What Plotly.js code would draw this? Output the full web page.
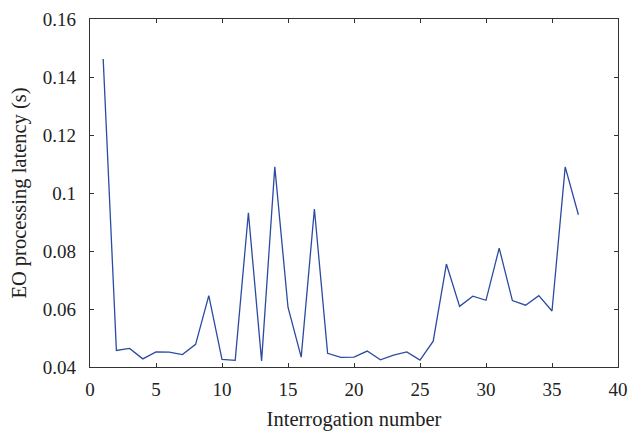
<!DOCTYPE html>
<html>
<head>
<meta charset="utf-8">
<script src="https://cdn.plot.ly/plotly-3.0.1.min.js"></script>
<style>html,body{margin:0;padding:0;background:#fff;}#chart{width:629px;height:434px;}</style>
</head>
<body>
<div id="chart"></div>
<script>
var interrogation = [1,2,3,4,5,6,7,8,9,10,11,12,13,14,15,16,17,18,19,20,21,22,23,24,25,26,27,28,29,30,31,32,33,34,35,36,37];
var latency = [0.1462,0.0457,0.0464,0.0428,0.0452,0.0451,0.0443,0.0478,0.0646,0.0426,0.0423,0.0932,0.0421,0.1090,0.0606,0.0434,0.0945,0.0447,0.0433,0.0434,0.0455,0.0425,0.0441,0.0452,0.0424,0.0489,0.0755,0.0609,0.0644,0.0630,0.0810,0.0629,0.0613,0.0646,0.0593,0.1090,0.0925];

var fam = '"Liberation Serif", "DejaVu Serif", serif';
var tickFont = {family: fam, size: 19, color: '#222'};
var titleFont = {family: fam, size: 20.5, color: '#222'};
Plotly.newPlot('chart', [{
  x: interrogation, y: latency, type: 'scatter', mode: 'lines',
  line: {color: '#2b4ba1', width: 1.3}
}], {
  width: 629, height: 434,
  margin: {l: 90, r: 11, t: 19, b: 67},
  paper_bgcolor: '#fff', plot_bgcolor: '#fff',
  font: tickFont,
  showlegend: false,
  xaxis: {
    range: [0, 40], dtick: 5, tick0: 0,
    ticks: 'inside', ticklen: 4, tickcolor: '#333', tickwidth: 1,
    showline: true, linecolor: '#333', linewidth: 1.3, mirror: 'ticks',
    showgrid: false, zeroline: false,
    tickfont: tickFont, ticklabelstandoff: 5,
    title: {text: 'Interrogation number', font: titleFont, standoff: 12}
  },
  yaxis: {
    range: [0.04, 0.16], dtick: 0.02, tick0: 0.04,
    ticks: 'inside', ticklen: 4, tickcolor: '#333', tickwidth: 1,
    showline: true, linecolor: '#333', linewidth: 1.3, mirror: 'ticks',
    showgrid: false, zeroline: false,
    tickfont: tickFont, ticklabelstandoff: 9,
    title: {text: 'EO processing latency (s)', font: titleFont, standoff: 10}
  }
}, {displayModeBar: false, staticPlot: true});
</script>
</body>
</html>
